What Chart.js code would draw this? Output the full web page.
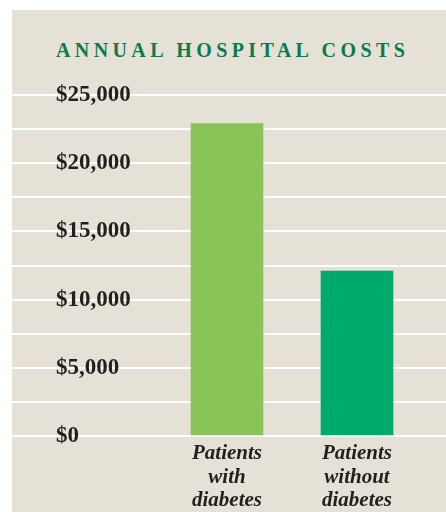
<!DOCTYPE html>
<html lang="en">
<head>
    <meta charset="UTF-8">
    <title>Annual Hospital Costs</title>
    <script src="https://cdn.jsdelivr.net/npm/chart.js"></script>
    <style>
        body {
            margin: 0;
            background: #fff;
        }

        .panel {
            position: absolute;
            left: 12px;
            top: 10px;
            width: 434px;
            height: 502px;
            background: #e5e1d6;
        }

        .panel h2 {
            position: absolute;
            left: 44px;
            top: 30px;
            margin: 0;
            font: bold 20px/20px "Liberation Serif", serif;
            letter-spacing: 4.4px;
            color: #0b7a4c;
            white-space: nowrap;
        }

        .panel canvas {
            position: absolute;
            left: 0;
            top: 0;
        }
    </style>
</head>
<body>
<div class="panel">
    <h2>ANNUAL HOSPITAL COSTS</h2>
    <canvas id="costChart" width="434" height="502"></canvas>
</div>

<script>
    const categories = ['Patients with diabetes', 'Patients without diabetes'];
    const costs = [22900, 12100];
    const barColors = ['#88c458', '#00aa6c'];
    const yTicks = [0, 5000, 10000, 15000, 20000, 25000];

    new Chart(document.getElementById('costChart'), {
        type: 'bar',
        data: {
            datasets: [{
                data: costs.map((v, i) => ({x: i, y: v})),
                backgroundColor: barColors,
                barThickness: 72
            }]
        },
        options: {
            responsive: false,
            animation: false,
            layout: {padding: {top: 85, left: 0, right: 0, bottom: 0}},
            plugins: {
                legend: {display: false},
                tooltip: {enabled: false}
            },
            scales: {
                x: {
                    type: 'linear',
                    offset: false,
                    // bar centres sit 130px apart, first one 215px from the left edge
                    min: -215 / 130,
                    max: 219 / 130,
                    grid: {display: false},
                    border: {display: false},
                    afterBuildTicks: scale => {
                        scale.ticks = categories.map((c, i) => ({value: i}));
                    },
                    afterFit: scale => {
                        scale.height = 76;
                    },
                    ticks: {
                        autoSkip: false,
                        maxRotation: 0,
                        padding: -2,
                        color: '#231f20',
                        font: {family: 'Liberation Serif', size: 21, weight: 'bold', style: 'italic', lineHeight: 1.12},
                        callback: v => categories[v] ? categories[v].split(' ') : ''
                    }
                },
                y: {
                    min: 0,
                    max: 25000,
                    grid: {color: '#ffffff', lineWidth: 2, drawTicks: false},
                    border: {display: false},
                    afterFit: scale => {
                        scale.width = 0;
                    },
                    ticks: {
                        stepSize: 2500,
                        mirror: true,
                        padding: 44,
                        color: '#231f20',
                        font: {family: 'Liberation Serif', size: 23, weight: 'bold'},
                        callback: v => yTicks.includes(v) ? '$' + v.toLocaleString('en-US') : ''
                    }
                }
            }
        }
    });
</script>
</body>
</html>
